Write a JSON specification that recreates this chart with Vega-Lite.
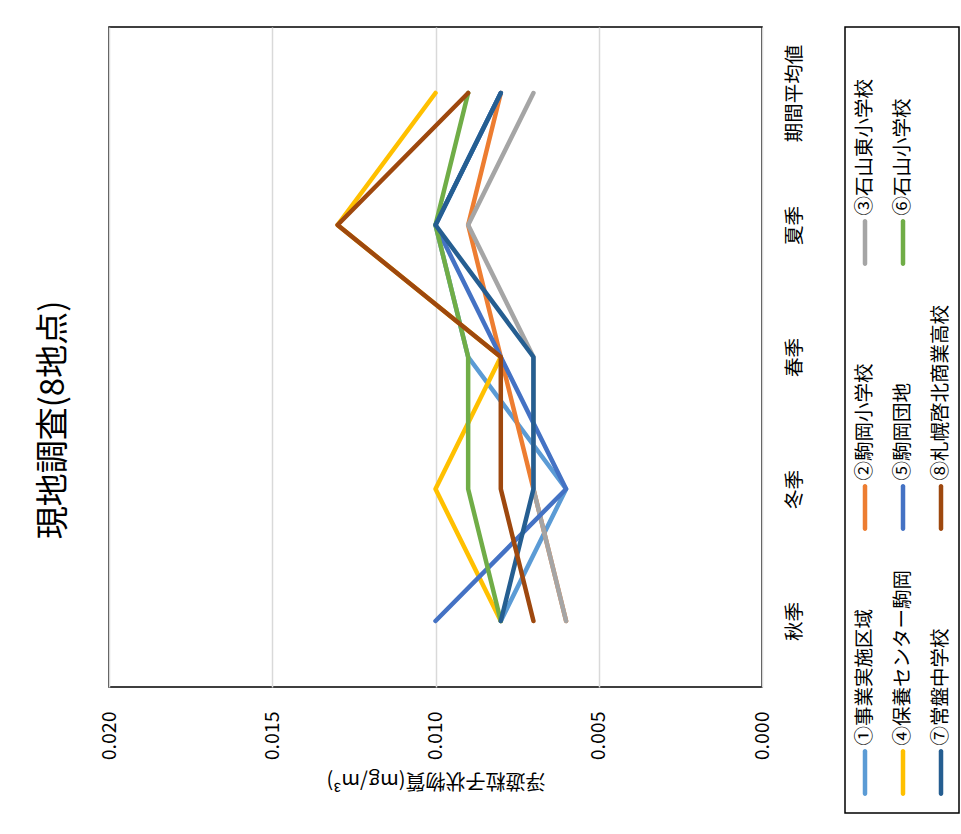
{
  "$schema": "https://vega.github.io/schema/vega-lite/v6.json",
  "background": "white",
  "padding": {"left": 38, "top": 26, "right": 0, "bottom": 0},
  "title": {"text": "現地調査(8地点)", "orient": "left", "anchor": "middle", "fontSize": 33, "font": "Noto Sans CJK JP", "fontWeight": "normal", "color": "#000000", "offset": 27},
  "datasets": {
    "main": [
      {"site": "①事業実施区域", "season": "秋季", "value": 0.008},
      {"site": "①事業実施区域", "season": "冬季", "value": 0.006},
      {"site": "①事業実施区域", "season": "春季", "value": 0.009},
      {"site": "①事業実施区域", "season": "夏季", "value": 0.010},
      {"site": "①事業実施区域", "season": "期間平均値", "value": 0.008},
      {"site": "②駒岡小学校", "season": "秋季", "value": 0.006},
      {"site": "②駒岡小学校", "season": "冬季", "value": 0.007},
      {"site": "②駒岡小学校", "season": "春季", "value": 0.008},
      {"site": "②駒岡小学校", "season": "夏季", "value": 0.009},
      {"site": "②駒岡小学校", "season": "期間平均値", "value": 0.008},
      {"site": "③石山東小学校", "season": "秋季", "value": 0.006},
      {"site": "③石山東小学校", "season": "冬季", "value": 0.007},
      {"site": "③石山東小学校", "season": "春季", "value": 0.007},
      {"site": "③石山東小学校", "season": "夏季", "value": 0.009},
      {"site": "③石山東小学校", "season": "期間平均値", "value": 0.007},
      {"site": "④保養センター駒岡", "season": "秋季", "value": 0.008},
      {"site": "④保養センター駒岡", "season": "冬季", "value": 0.010},
      {"site": "④保養センター駒岡", "season": "春季", "value": 0.008},
      {"site": "④保養センター駒岡", "season": "夏季", "value": 0.013},
      {"site": "④保養センター駒岡", "season": "期間平均値", "value": 0.010},
      {"site": "⑤駒岡団地", "season": "秋季", "value": 0.010},
      {"site": "⑤駒岡団地", "season": "冬季", "value": 0.006},
      {"site": "⑤駒岡団地", "season": "春季", "value": 0.008},
      {"site": "⑤駒岡団地", "season": "夏季", "value": 0.010},
      {"site": "⑤駒岡団地", "season": "期間平均値", "value": 0.008},
      {"site": "⑥石山小学校", "season": "秋季", "value": 0.008},
      {"site": "⑥石山小学校", "season": "冬季", "value": 0.009},
      {"site": "⑥石山小学校", "season": "春季", "value": 0.009},
      {"site": "⑥石山小学校", "season": "夏季", "value": 0.010},
      {"site": "⑥石山小学校", "season": "期間平均値", "value": 0.009},
      {"site": "⑦常盤中学校", "season": "秋季", "value": 0.008},
      {"site": "⑦常盤中学校", "season": "冬季", "value": 0.007},
      {"site": "⑦常盤中学校", "season": "春季", "value": 0.007},
      {"site": "⑦常盤中学校", "season": "夏季", "value": 0.010},
      {"site": "⑦常盤中学校", "season": "期間平均値", "value": 0.008},
      {"site": "⑧札幌啓北商業高校", "season": "秋季", "value": 0.007},
      {"site": "⑧札幌啓北商業高校", "season": "冬季", "value": 0.008},
      {"site": "⑧札幌啓北商業高校", "season": "春季", "value": 0.008},
      {"site": "⑧札幌啓北商業高校", "season": "夏季", "value": 0.013},
      {"site": "⑧札幌啓北商業高校", "season": "期間平均値", "value": 0.009}
    ],
    "legend": [
      {"site": "①事業実施区域"},
      {"site": "②駒岡小学校"},
      {"site": "③石山東小学校"},
      {"site": "④保養センター駒岡"},
      {"site": "⑤駒岡団地"},
      {"site": "⑥石山小学校"},
      {"site": "⑦常盤中学校"},
      {"site": "⑧札幌啓北商業高校"}
    ]
  },
  "spacing": 39,
  "hconcat": [
    {
      "width": 653,
      "height": 660,
      "data": {"name": "main"},
      "mark": {"type": "line", "strokeWidth": 4.5, "strokeCap": "round", "strokeJoin": "round"},
      "encoding": {
        "x": {
          "field": "value", "type": "quantitative",
          "scale": {"domain": [0, 0.02], "reverse": true, "nice": false},
          "axis": {
            "values": [0, 0.005, 0.01, 0.015, 0.02], "format": ".3f",
            "labelAngle": -90, "labelAlign": "right", "labelBaseline": "middle",
            "labelFontSize": 19.5, "labelColor": "#000000", "labelPadding": 24,
            "ticks": false, "tickSize": 0, "domain": false,
            "grid": true, "gridColor": "#D9D9D9", "gridWidth": 1.5,
            "title": "浮遊粒子状物質(mg/m³)", "titleAngle": 180, "titleBaseline": "bottom",
            "titleFontSize": 20, "titleFontWeight": "normal", "titleColor": "#000000", "titlePadding": 10
          }
        },
        "y": {
          "field": "season", "type": "nominal",
          "scale": {"type": "point", "padding": 0.5, "domain": ["期間平均値", "夏季", "春季", "冬季", "秋季"]},
          "axis": {
            "orient": "right", "labelAngle": -90, "labelAlign": "center", "labelBaseline": "top",
            "labelFontSize": 19.5, "labelColor": "#000000", "labelPadding": 23,
            "ticks": false, "tickSize": 0, "domain": false, "grid": false, "title": null
          }
        },
        "color": {
          "field": "site", "type": "nominal",
          "scale": {
            "domain": ["①事業実施区域", "②駒岡小学校", "③石山東小学校", "④保養センター駒岡", "⑤駒岡団地", "⑥石山小学校", "⑦常盤中学校", "⑧札幌啓北商業高校"],
            "range": ["#5B9BD5", "#ED7D31", "#A5A5A5", "#FFC000", "#4472C4", "#70AD47", "#255E91", "#9E480E"]
          },
          "legend": null
        },
        "order": {"value": null}
      }
    },
    {
      "width": 114,
      "height": 786,
      "data": {"name": "legend"},
      "transform": [
        {"window": [{"op": "row_number", "as": "rn"}]},
        {"calculate": "floor((datum.rn - 1) / 3)", "as": "col"},
        {"calculate": "(datum.rn - 1) % 3", "as": "row"}
      ],
      "encoding": {
        "x": {"field": "col", "type": "quantitative", "scale": {"domain": [0, 2], "range": [20, 96]}, "axis": null},
        "y": {"field": "row", "type": "quantitative", "scale": {"domain": [0, 2], "range": [745.5, 215.5]}, "axis": null},
        "color": {
          "field": "site", "type": "nominal",
          "scale": {
            "domain": ["①事業実施区域", "②駒岡小学校", "③石山東小学校", "④保養センター駒岡", "⑤駒岡団地", "⑥石山小学校", "⑦常盤中学校", "⑧札幌啓北商業高校"],
            "range": ["#5B9BD5", "#ED7D31", "#A5A5A5", "#FFC000", "#4472C4", "#70AD47", "#255E91", "#9E480E"]
          },
          "legend": null
        }
      },
      "layer": [
        {"mark": {"type": "tick", "orient": "vertical", "size": 47, "thickness": 4.5, "cornerRadius": 2.25, "opacity": 1}},
        {
          "mark": {"type": "text", "angle": 270, "align": "left", "baseline": "middle", "dx": 27, "fontSize": 19.5},
          "encoding": {"text": {"field": "site"}, "color": {"value": "#000000"}}
        }
      ]
    }
  ],
  "config": {
    "font": "Noto Sans CJK JP",
    "view": {"stroke": "#000000", "strokeWidth": 1.5}
  }
}
